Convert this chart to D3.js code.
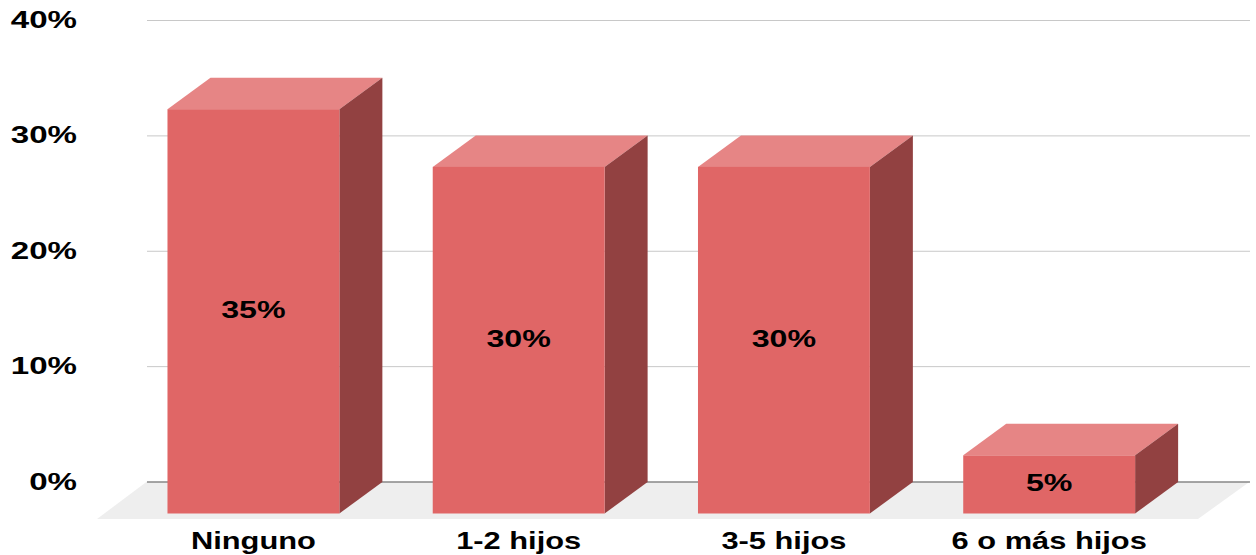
<!DOCTYPE html>
<html>
<head>
<meta charset="utf-8">
<script src="https://cdn.jsdelivr.net/npm/d3@7"></script>
<style>
html, body { margin: 0; padding: 0; background: #fff; }
svg { display: block; }
text { font-family: "Liberation Sans", Arial, sans-serif; font-weight: 700; fill: #000; }
</style>
</head>
<body>
<svg id="chart" width="1256" height="555"></svg>
<script>
// Share of respondents by number of children
const categories = ["Ninguno", "1-2 hijos", "3-5 hijos", "6 o más hijos"];
const shares = [35, 30, 30, 5];
const axisTicks = [0, 10, 20, 30, 40];

const width = 1256, height = 555;
const depthX = 43, depthY = 31.5;        // oblique projection of the bars
const fontSize = 23;
const stretchTick = 1.44, stretchCat = 1.34, stretchVal = 1.4;

const svg = d3.select("#chart");

const y = d3.scaleLinear().domain([0, 40]).range([481.5, 20]);
const x = d3.scaleBand().domain(categories).range([120.8, 1181.8]).paddingInner(0.352).paddingOuter(0.176);

// Floor plane under the chart
const floorLeft = 147, floorRight = 1250;
svg.append("path")
  .attr("d", d3.line()([
    [floorLeft, y(0)], [floorRight, y(0)],
    [floorRight - 52, y(0) + 37.5], [floorLeft - 50, y(0) + 37.5]
  ]) + "Z")
  .attr("fill", "#eeeeee");

// Value gridlines, with the zero line drawn darker
const yAxis = d3.axisLeft(y).tickValues(axisTicks).tickFormat(d => d + "%")
  .tickSize(floorRight - floorLeft).tickPadding(0);
const yG = svg.append("g").attr("transform", `translate(${floorRight},0)`).call(yAxis);
yG.select(".domain").remove();
yG.selectAll(".tick line")
  .attr("stroke", d => d === 0 ? "#555555" : "#c8c8c8")
  .attr("stroke-width", 1);
yG.selectAll(".tick text")
  .attr("x", null).attr("dy", null)
  .attr("text-anchor", "end")
  .attr("font-size", fontSize)
  .attr("transform", `translate(${77 - floorRight},7.5) scale(${stretchTick},1)`);

// Each bar: top face, side face, front face
const bars = svg.append("g").selectAll("g").data(categories).join("g");
const frontTop = i => y(shares[i]) + depthY;
const frontBottom = y(0) + depthY + 0.5;

bars.append("path")
  .attr("fill", "#e68585")
  .attr("d", (c, i) => {
    const l = x(c), r = l + x.bandwidth(), t = frontTop(i);
    return d3.line()([[l, t], [l + depthX, t - depthY], [r + depthX, t - depthY], [r, t]]) + "Z";
  });
bars.append("path")
  .attr("fill", "#924141")
  .attr("d", (c, i) => {
    const r = x(c) + x.bandwidth(), t = frontTop(i);
    return d3.line()([[r, t], [r + depthX, t - depthY], [r + depthX, frontBottom - depthY], [r, frontBottom]]) + "Z";
  });
bars.append("rect")
  .attr("fill", "#e06666")
  .attr("x", c => x(c))
  .attr("width", x.bandwidth())
  .attr("y", (c, i) => frontTop(i))
  .attr("height", (c, i) => frontBottom - frontTop(i));

// Value labels centred on the front faces
bars.append("text")
  .attr("text-anchor", "middle")
  .attr("font-size", fontSize)
  .attr("transform", (c, i) => `translate(${x(c) + x.bandwidth() / 2},${(frontTop(i) + frontBottom) / 2 + 6.5}) scale(${stretchVal},1)`)
  .text((c, i) => shares[i] + "%");

// Category labels
const xAxis = d3.axisBottom(x).tickSize(0).tickPadding(0);
const xG = svg.append("g").call(xAxis);
xG.select(".domain").remove();
xG.selectAll(".tick text")
  .attr("y", null).attr("dy", null)
  .attr("font-size", fontSize)
  .attr("text-anchor", "middle")
  .attr("transform", `translate(0,548.5) scale(${stretchCat},1)`);
</script>
</body>
</html>
